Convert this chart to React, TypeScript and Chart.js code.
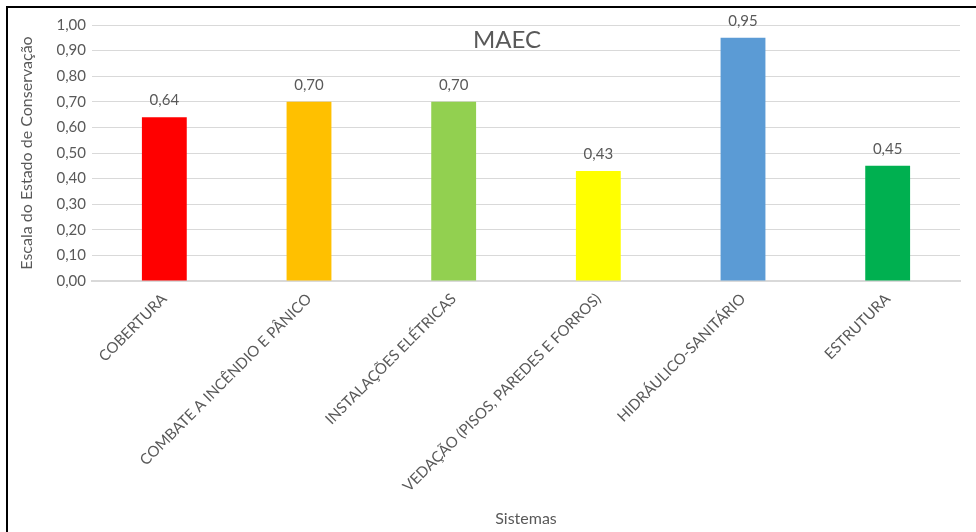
import React, { useEffect, useRef } from "react";
import { Chart, registerables } from "chart.js";

Chart.register(...registerables);

const categories = [
  "COBERTURA",
  "COMBATE A INCÊNDIO E PÂNICO",
  "INSTALAÇÕES ELÉTRICAS",
  "VEDAÇÃO (PISOS, PAREDES E FORROS)",
  "HIDRÁULICO-SANITÁRIO",
  "ESTRUTURA",
];
const values = [0.64, 0.7, 0.7, 0.43, 0.95, 0.45];
const barColors = ["#FF0000", "#FFC000", "#92D050", "#FFFF00", "#5B9BD5", "#00B050"];
const chartTitle = "MAEC";
const yAxisTitle = "Escala do Estado de Conservação";
const xAxisTitle = "Sistemas";

const FONT = "Lato, 'Open Sans', sans-serif";
const TEXT = "#595959";
const fmt = (v: number) => v.toFixed(2).replace(".", ",");

const CW = 998;
const CH = 524;

export default function App() {
  const ref = useRef<HTMLCanvasElement | null>(null);

  useEffect(() => {
    if (!ref.current) return;
    const labelPlugin = {
      id: "labels",
      afterDatasetsDraw(chart: any) {
        const ctx = chart.ctx;
        const meta = chart.getDatasetMeta(0);
        ctx.save();
        ctx.font = `15px ${FONT}`;
        ctx.fillStyle = TEXT;
        ctx.textAlign = "center";
        ctx.textBaseline = "middle";
        meta.data.forEach((el: any, i: number) => {
          ctx.fillText(fmt(values[i]), el.x, el.y - 17);
        });
        ctx.restore();
      },
    };
    const titlePlugin = {
      id: "overTitle",
      afterDraw(chart: any) {
        const ctx = chart.ctx;
        ctx.save();
        ctx.font = `24px ${FONT}`;
        ctx.fillStyle = TEXT;
        ctx.textAlign = "center";
        ctx.textBaseline = "middle";
        ctx.fillText(chartTitle, chart.width / 2, 32);
        ctx.restore();
      },
    };
    const chart = new Chart(ref.current, {
      type: "bar",
      data: {
        labels: categories,
        datasets: [
          {
            data: values,
            backgroundColor: barColors,
            borderWidth: 0,
            barPercentage: 0.31,
            categoryPercentage: 1,
          },
        ],
      },
      plugins: [labelPlugin, titlePlugin],
      options: {
        responsive: false,
        animation: false,
        devicePixelRatio: 1,
        layout: { padding: { left: 5, top: 17, right: 46, bottom: 0 } },
        plugins: { legend: { display: false }, tooltip: { enabled: false }, title: { display: false } },
        scales: {
          x: {
            grid: { display: false, drawTicks: false },
            border: { color: "#D9D9D9", width: 2 },
            ticks: {
              color: TEXT,
              font: { family: FONT, size: 15 },
              minRotation: 45,
              maxRotation: 45,
              padding: 9,
              autoSkip: false,
            },
            title: {
              display: true,
              text: xAxisTitle,
              color: TEXT,
              font: { family: FONT, size: 16 },
              padding: { top: 0, bottom: 4 },
            },
            afterFit(scale: any) {
              scale.height = CH - 273;
            },
          },
          y: {
            min: 0,
            max: 1,
            grid: { color: "#D9D9D9", drawTicks: false },
            border: { display: false },
            ticks: {
              stepSize: 0.1,
              color: TEXT,
              font: { family: FONT, size: 15 },
              padding: 6,
              callback: (v: any) => fmt(Number(v)),
            },
            title: {
              display: true,
              text: yAxisTitle,
              color: TEXT,
              font: { family: FONT, size: 16 },
              padding: { top: 4, bottom: 4 },
            },
            afterFit(scale: any) {
              scale.width = 84 - 5;
            },
          },
        },
      },
    });
    return () => chart.destroy();
  }, []);

  return (
    <div style={{ position: "fixed", left: 0, top: 0, width: 976, height: 532, overflow: "hidden", background: "#fff" }}>
      <div
        style={{
          position: "absolute",
          left: 6,
          top: 6,
          width: CW,
          height: CH + 20,
          border: "2px solid #000",
          background: "#fff",
        }}
      >
        <canvas ref={ref} width={CW} height={CH} style={{ display: "block", width: CW, height: CH }} />
      </div>
    </div>
  );
}
